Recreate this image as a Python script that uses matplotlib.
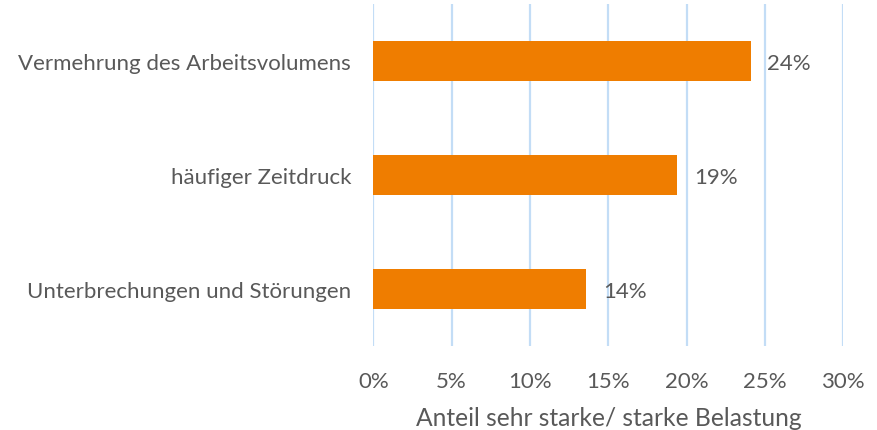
import matplotlib
matplotlib.use("Agg")
import matplotlib.pyplot as plt
from matplotlib.ticker import FuncFormatter

categories = ["Unterbrechungen und Störungen", "häufiger Zeitdruck", "Vermehrung des Arbeitsvolumens"]
values = [13.6, 19.4, 24.1]
labels = ["14%", "19%", "24%"]
xticks = [0, 5, 10, 15, 20, 25, 30]
xlabel = "Anteil sehr starke/ starke Belastung"

plt.rcParams['font.family'] = ['Lato', 'DejaVu Sans']
text_color = "#595959"

fig = plt.figure(figsize=(8.77, 4.31), dpi=100)
ax = fig.add_axes([0.4257, 0.1949, 0.5359, 0.7935])

y = list(range(len(categories)))
ax.barh(y, values, height=0.35, color="#EF7D00", zorder=3)
for yi, v, lab in zip(y, values, labels):
    ax.text(v + 1.05, yi - 0.02, lab, va="center", ha="left", fontsize=16, color=text_color)

ax.set_xlim(0, 30)
ax.set_ylim(-0.5, 2.5)
ax.set_xticks(xticks)
ax.xaxis.set_major_formatter(FuncFormatter(lambda v, p: f"{int(v)}%"))
ax.set_yticks(y)
ax.set_yticklabels(categories)
ax.grid(axis="x", color="#C3DDF6", linewidth=1.6, zorder=0)
ax.set_axisbelow(True)
for s in ax.spines.values():
    s.set_visible(False)
ax.tick_params(axis="both", length=0, colors=text_color, labelsize=16)
ax.tick_params(axis="x", pad=18)
ax.tick_params(axis="y", pad=16)
ax.set_xlabel(xlabel, fontsize=17.7, color=text_color, labelpad=11)

fig.savefig("out.png", dpi=100)
